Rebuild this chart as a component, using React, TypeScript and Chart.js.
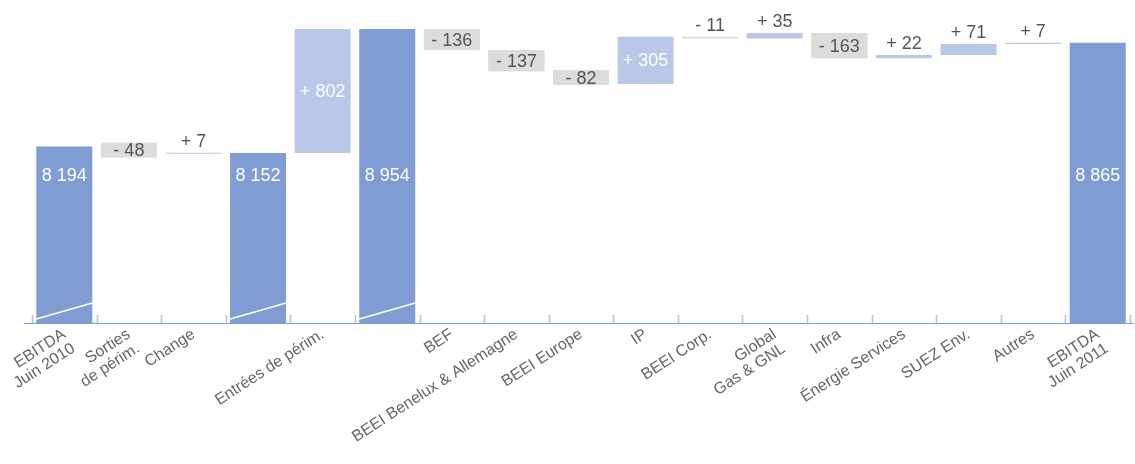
import { useEffect, useRef } from "react";
import { Chart, registerables } from "chart.js";

Chart.register(...registerables);

const categories: (string | string[])[] = [
  ["EBITDA", "Juin 2010"],
  ["Sorties", "de périm."],
  "Change",
  "",
  "Entrées de périm.",
  "",
  "BEF",
  "BEEI Benelux & Allemagne",
  "BEEI Europe",
  "IP",
  "BEEI Corp.",
  ["Global", "Gas & GNL"],
  "Infra",
  "Énergie Services",
  "SUEZ Env.",
  "Autres",
  ["EBITDA", "Juin 2011"],
];

const kinds = [
  "total", "delta", "delta", "total", "delta", "total",
  "delta", "delta", "delta", "delta", "delta", "delta",
  "delta", "delta", "delta", "delta", "total",
];

const values = [
  8194, -48, 7, 8152, 802, 8954,
  -136, -137, -82, 305, -11, 35,
  -163, 22, 71, 7, 8865,
];

const brokenBars = [
  true, false, false, true, false, true,
  false, false, false, false, false, false,
  false, false, false, false, false,
];

const Y_MIN = 7050;
const Y_MAX = 9000;
const TOTAL_LABEL_AT = 8000;

const COLOR_TOTAL = "#7f9cd3";
const COLOR_POS = "#b9c7e8";
const COLOR_NEG = "#dcdcdc";
const COLOR_TEXT = "#555555";
const COLOR_AXIS = "#7f9cd3";
const COLOR_TICK = "#b3c4e8";

function fmt(n: number): string {
  return String(Math.abs(n)).replace(/\B(?=(\d{3})+(?!\d))/g, " ");
}

function buildRanges(): [number, number][] {
  let running = 0;
  return values.map((v, i) => {
    if (kinds[i] === "total") {
      running = v;
      return [Y_MIN, v] as [number, number];
    }
    const s = running;
    running += v;
    return [s, running] as [number, number];
  });
}

const waterfallPlugin = {
  id: "waterfallDecor",
  afterDatasetsDraw(chart: any) {
    const ctx = chart.ctx as CanvasRenderingContext2D;
    const { left, right, bottom } = chart.chartArea;
    const yScale = chart.scales.y;
    const meta = chart.getDatasetMeta(0);
    const n = categories.length;
    const cw = (right - left) / n;

    ctx.save();
    meta.data.forEach((bar: any, i: number) => {
      if (!brokenBars[i]) return;
      const p = bar.getProps(["x", "width", "base"], true);
      const x0 = p.x - p.width / 2;
      const x1 = p.x + p.width / 2;
      ctx.strokeStyle = "#ffffff";
      ctx.lineWidth = 1.6;
      ctx.beginPath();
      ctx.moveTo(x0, p.base - 4);
      ctx.lineTo(x1, p.base - 20);
      ctx.stroke();
    });

    ctx.font = "18px 'Liberation Sans', Arial, sans-serif";
    ctx.textAlign = "center";
    meta.data.forEach((bar: any, i: number) => {
      const p = bar.getProps(["x", "y", "width", "base"], true);
      const v = values[i];
      if (kinds[i] === "total") {
        ctx.fillStyle = "#ffffff";
        ctx.textBaseline = "middle";
        ctx.fillText(fmt(v), p.x, yScale.getPixelForValue(TOTAL_LABEL_AT));
        return;
      }
      const top = Math.min(p.y, p.base);
      const h = Math.abs(p.base - p.y);
      const cy = (p.y + p.base) / 2;
      const txt = (v > 0 ? "+ " : "- ") + fmt(v);
      if (v < 0 && Math.abs(v) >= 40) {
        const H = Math.max(h, 15);
        ctx.fillStyle = COLOR_NEG;
        ctx.fillRect(p.x - p.width / 2, cy - H / 2, p.width, H);
        ctx.fillStyle = COLOR_TEXT;
        ctx.textBaseline = "middle";
        ctx.fillText(txt, p.x, cy + 1);
      } else if (v > 0 && h >= 20) {
        ctx.fillStyle = "#ffffff";
        ctx.textBaseline = "middle";
        ctx.fillText(txt, p.x, cy + 1);
      } else {
        ctx.fillStyle = COLOR_TEXT;
        ctx.textBaseline = "alphabetic";
        ctx.fillText(txt, p.x, top - 6);
      }
    });

    ctx.strokeStyle = COLOR_AXIS;
    ctx.lineWidth = 1.2;
    ctx.beginPath();
    ctx.moveTo(left - 8, bottom + 0.5);
    ctx.lineTo(right + 4, bottom + 0.5);
    ctx.stroke();

    ctx.strokeStyle = COLOR_TICK;
    ctx.lineWidth = 1.6;
    for (let i = 0; i <= n; i++) {
      const x = Math.round(left + i * cw) + 0.5;
      ctx.beginPath();
      ctx.moveTo(x, bottom - 8);
      ctx.lineTo(x, bottom);
      ctx.stroke();
    }
    ctx.restore();
  },
};

export default function App() {
  const ref = useRef<HTMLCanvasElement | null>(null);

  useEffect(() => {
    document.body.style.margin = "0";
    if (!ref.current) return;
    Chart.defaults.font.family = "'Liberation Sans', Arial, sans-serif";
    const ranges = buildRanges();
    const colors = values.map((v, i) =>
      kinds[i] === "total" ? COLOR_TOTAL : v > 0 ? COLOR_POS : COLOR_NEG
    );
    const chart = new Chart(ref.current, {
      type: "bar",
      data: {
        labels: categories,
        datasets: [
          {
            data: ranges as any,
            backgroundColor: colors,
            borderWidth: 0,
            categoryPercentage: 1,
            barPercentage: 0.867,
          },
        ],
      },
      options: {
        animation: false,
        responsive: false,
        devicePixelRatio: 1,
        layout: { padding: { left: 32, right: 5, top: 22, bottom: 0 } },
        plugins: {
          legend: { display: false },
          tooltip: { enabled: false },
        },
        scales: {
          x: {
            offset: true,
            grid: { display: false, drawTicks: false },
            border: { display: false },
            ticks: {
              autoSkip: false,
              maxRotation: 33,
              minRotation: 33,
              color: "#666666",
              font: { size: 16, lineHeight: 1.05 },
              padding: 3,
            },
            afterFit: (s: any) => {
              s.height = 141;
            },
          },
          y: { display: false, min: Y_MIN, max: Y_MAX },
        },
      },
      plugins: [waterfallPlugin],
    });
    return () => chart.destroy();
  }, []);

  return (
    <canvas
      ref={ref}
      width={1135}
      height={464}
      style={{ display: "block", width: 1135, height: 464 }}
    />
  );
}
